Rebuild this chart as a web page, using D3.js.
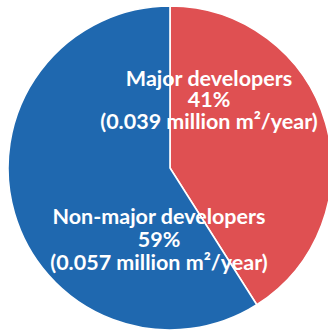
<!DOCTYPE html>
<html>
<head>
<meta charset="utf-8">
<script src="https://cdn.jsdelivr.net/npm/d3@7"></script>
<style>
  html, body { margin: 0; padding: 0; background: #fff; }
  svg { display: block; }
  text { font-family: Lato, "Open Sans", sans-serif; font-weight: 700; fill: #fff; }
</style>
</head>
<body>
<svg id="chart" width="328" height="334"></svg>
<script>
// Share of floor area supplied per year, by developer type
const categories = ["Major developers", "Non-major developers"];
const shares = [41, 59];
const volumes = ["0.039", "0.057"];
const unitLabel = "million m\u00B2/year";
const colors = ["#DF5052", "#1F68AF"];

const width = 328, height = 334;
const cx = 170, cy = 168, radius = 162;

// Label block anchors (baseline of the middle line), relative to the pie centre
const labelOffsets = [[39, -61], [-11, 79]];
const lineGap = [21.5, 23];
const fontSize = [21.5, 21.5];

const svg = d3.select("#chart");
const g = svg.append("g").attr("transform", `translate(${cx},${cy})`);

const pie = d3.pie().sort(null).value(d => d.share);
const arc = d3.arc().innerRadius(0).outerRadius(radius);

const data = categories.map((c, i) => ({ name: c, share: shares[i], volume: volumes[i], color: colors[i], i }));

g.selectAll("path.slice")
  .data(pie(data))
  .join("path")
  .attr("class", "slice")
  .attr("d", arc)
  .attr("fill", d => d.data.color)
  .attr("stroke", "#fff")
  .attr("stroke-width", 1.6)
  .attr("stroke-linejoin", "miter");

const labels = g.selectAll("text.label")
  .data(data)
  .join("text")
  .attr("class", "label")
  .attr("text-anchor", "middle")
  .attr("font-size", d => fontSize[d.i])
  .attr("x", d => labelOffsets[d.i][0])
  .attr("y", d => labelOffsets[d.i][1]);

labels.each(function(d) {
  const t = d3.select(this);
  const lines = [d.name, `${d.share}%`, `(${d.volume} ${unitLabel})`];
  lines.forEach((ln, k) => {
    t.append("tspan")
      .attr("x", labelOffsets[d.i][0])
      .attr("dy", k === 0 ? -lineGap[d.i] : lineGap[d.i])
      .text(ln);
  });
});
</script>
</body>
</html>
